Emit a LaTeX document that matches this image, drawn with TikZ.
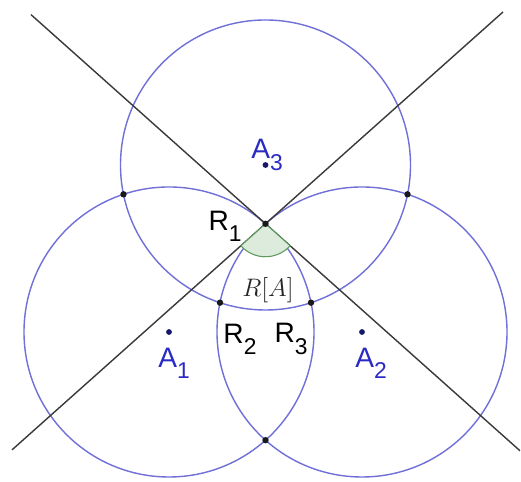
\documentclass[tikz,border=0pt]{standalone}
\usepackage{fontspec}
\setmainfont{Liberation Sans}
\usetikzlibrary{calc}
\definecolor{CircleBlue}{HTML}{7070D8}
\definecolor{LabelBlue}{HTML}{2A2AC4}
\definecolor{LineInk}{HTML}{3A3A3A}
\definecolor{AngleFill}{HTML}{DCEBDC}
\definecolor{AngleEdge}{HTML}{5E9A5E}
\newcommand{\ptname}[2]{#1\raisebox{-0.75ex}{\fontsize{13}{14}\selectfont #2}}

\begin{document}
\begin{tikzpicture}[x=0.02cm,y=0.02cm,every node/.style={font=\fontsize{16}{18}\selectfont,inner sep=0pt},circ/.style={draw=CircleBlue,line width=0.8pt},tangent/.style={draw=LineInk,line width=0.8pt},ptdot/.style={fill=black!90},ctrdot/.style={fill=LabelBlue!55!black}]
\useasboundingbox (0,0) rectangle (521,482);
\fill[white] (0,0) rectangle (521,482);

\coordinate (A1) at (169,150); \coordinate (A2) at (362,150); \coordinate (A3) at (265.5,317);
\coordinate (R1) at (265.5,258.2); \coordinate (R2) at (220,179.3); \coordinate (R3) at (311,179.3);
\coordinate (Bot) at (265.5,41.8); \coordinate (OutL) at (123.5,287.7); \coordinate (OutR) at (407.5,287.7);

% circles
\draw[circ] (A1) circle[radius=145]; \draw[circ] (A2) circle[radius=145]; \draw[circ] (A3) circle[radius=145];

% tangent lines at R1
\draw[tangent] ($(R1)!2.167!-90:(A1)$) -- ($(R1)!2.352!90:(A1)$);
\draw[tangent] ($(R1)!2.343!-90:(A2)$) -- ($(R1)!2.195!90:(A2)$);

% angle
\filldraw[fill=AngleFill,draw=AngleEdge,line width=0.6pt] (R1) -- ++(221.7:33) arc[start angle=221.7,end angle=318.3,radius=33] -- cycle;

% points
\foreach \p in {R1,R2,R3,Bot,OutL,OutR} \fill[ptdot] (\p) circle[radius=3.2];
\foreach \p in {A1,A2,A3} \fill[ctrdot] (\p) circle[radius=2.9];

% labels
\node[text=LabelBlue] (labA3) at (267,327) {\ptname{A}{3}};
\node[text=LabelBlue] (labA1) at (174,119) {\ptname{A}{1}};
\node[text=LabelBlue] (labA2) at (371,119) {\ptname{A}{2}};
\node (labR1) at (225,256) {\ptname{R}{1}};
\node (labR2) at (240,143) {\ptname{R}{2}};
\node (labR3) at (291,143) {\ptname{R}{3}};
\node[text=black!85,font=\fontsize{14}{16}\selectfont] (labRA) at (268,192) {$R[A]$};

\end{tikzpicture}
\end{document}
